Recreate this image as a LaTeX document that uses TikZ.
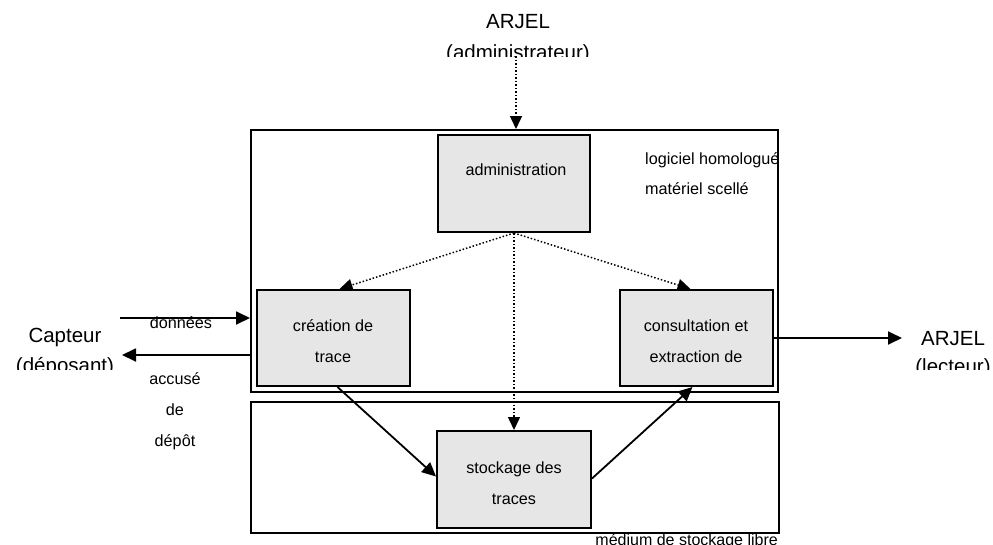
\documentclass[tikz,border=0pt]{standalone}
\usepackage{fontspec}
\setmainfont{Liberation Sans}
\usetikzlibrary{arrows.meta,calc}
\definecolor{boxgray}{HTML}{E6E6E6}
\begin{document}
\begin{tikzpicture}[x=1pt,y=-1pt,
  box/.style={draw,line width=2pt,fill=boxgray,inner sep=0},
  frame/.style={draw,line width=2pt,inner sep=0},
  small/.style={font=\fontsize{16.2}{19}\selectfont,inner sep=0,anchor=base},
  big/.style={font=\fontsize{20.5}{24}\selectfont,inner sep=0,anchor=base},
  dotarrow/.style={dotted,line width=1.5pt,-{Triangle[length=13pt,width=12pt]}},
  solidarrow/.style={line width=1.8pt,-{Triangle[length=14pt,width=13pt]}}]
\useasboundingbox (0,0) rectangle (993,544);
\clip (0,0) rectangle (993,544);

% frames
\node[frame,minimum width=527pt,minimum height=262pt] (upper) at (514.5,261) {};
\node[frame,minimum width=528pt,minimum height=131pt] (lower) at (515,467.5) {};

% boxes
\node[box,minimum width=152pt,minimum height=97pt] (adm) at (514,183.5) {};
\node[box,minimum width=153pt,minimum height=96pt] (cre) at (333.5,338) {};
\node[box,minimum width=153pt,minimum height=96pt] (con) at (696.5,338) {};
\node[box,minimum width=154pt,minimum height=97pt] (sto) at (514,479.5) {};

% box texts
\node[small] (tadm) at (516,175) {administration};
\node[small] (tcre1) at (333,331.5) {création de};
\node[small] (tcre2) at (333,362.5) {trace};
\node[small] (tcon1) at (696,331.5) {consultation et};
\node[small] (tcon2) at (696,362.5) {extraction de};
\node[small] (tsto1) at (514,473.5) {stockage des};
\node[small] (tsto2) at (514,504.5) {traces};
\node[small,anchor=base west] (tlog) at (645,164.5) {logiciel homologué};
\node[small,anchor=base west] (tmat) at (645,194.5) {matériel scellé};
\node[small] (tdon) at (181,328) {données};
\node[small] (tacc) at (175,384) {accusé};
\node[small] (tde) at (175,415) {de};
\node[small] (tdep) at (175,446) {dépôt};
\node[small,anchor=base east,font=\fontsize{16}{19}\selectfont] (tmed) at (778,545) {médium de stockage libre};

% outside labels
\node[big] (arjtop) at (518,28) {ARJEL};
\begin{scope}
  \clip (400,0) rectangle (650,56);
  \node[big] (arjadm) at (518,59) {(administrateur)};
\end{scope}
\node[big] (cap) at (65,342) {Capteur};
\begin{scope}
  \clip (0,345) rectangle (140,369);
  \node[big] (dep) at (65,372) {(déposant)};
\end{scope}
\node[big] (arjr) at (953,345) {ARJEL};
\begin{scope}
  \clip (900,348) rectangle (993,369);
  \node[big] (lec) at (953,373) {(lecteur)};
\end{scope}

% connectors
\coordinate (atop) at (516,56);
\draw[dotarrow] (atop) -- (atop |- upper.north);
\draw[dotarrow] (adm.south) -- ($(cre.north)+(6,0)$);
\draw[dotarrow] (adm.south) -- ($(con.north)+(-6,0)$);
\draw[dotarrow] (adm.south) -- (sto.north);

\coordinate (din) at (120,318);
\draw[solidarrow] (din) -- (din -| upper.west);
\coordinate (aout) at (122,355);
\draw[solidarrow] (aout -| upper.west) -- (aout);
\coordinate (rout) at (902,338);
\draw[solidarrow] (rout -| con.east) -- (rout);

\draw[solidarrow] ($(cre.south)+(4,0)$) -- ($(sto.west)+(0,-3)$);
\draw[solidarrow] ($(sto.east)+(0,-1)$) -- ($(con.south)+(-4,0)$);
\end{tikzpicture}
\end{document}
